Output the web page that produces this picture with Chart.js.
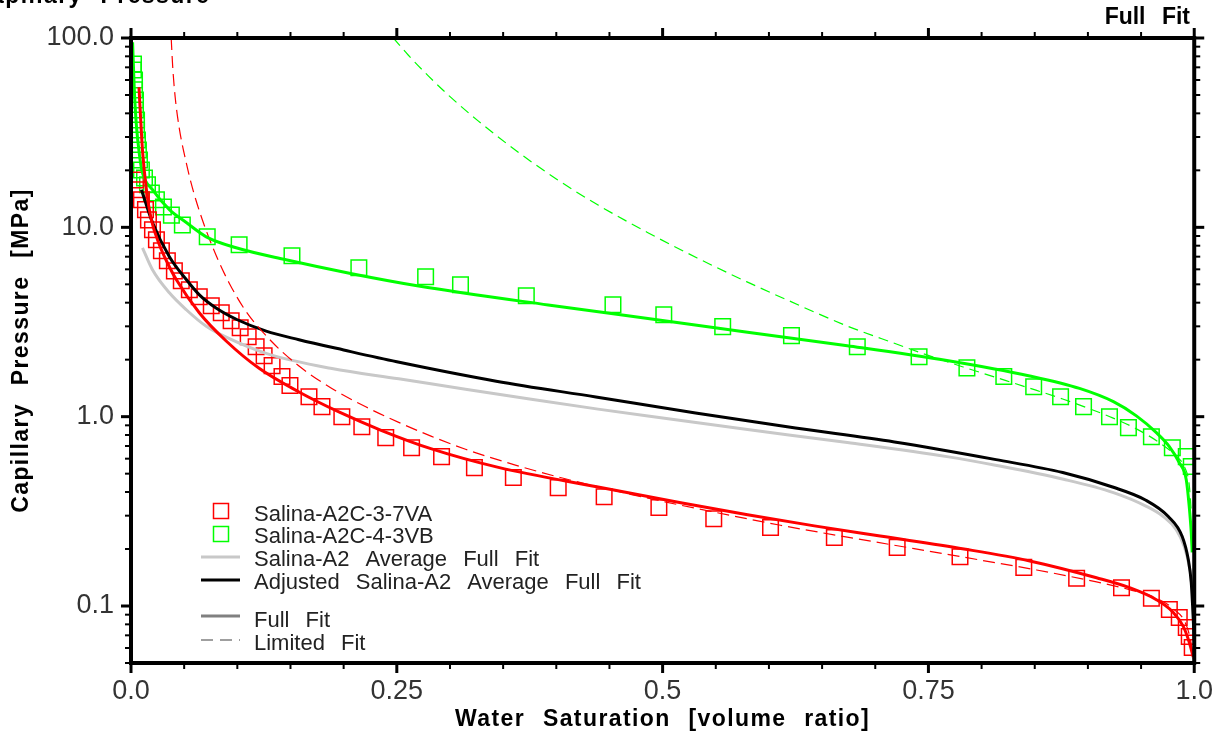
<!DOCTYPE html>
<html>
<head>
<meta charset="utf-8">
<title>Capillary Pressure</title>
<script src="https://cdn.jsdelivr.net/npm/chart.js@4.4.1/dist/chart.umd.min.js"></script>
<style>
  html, body { margin: 0; padding: 0; background: #ffffff; }
  canvas { display: block; }
</style>
</head>
<body>
<canvas id="pc" width="1225" height="740"></canvas>
<script>
// ---- axis ticks and labels ----
const xMajorTicks = [0, 0.25, 0.5, 0.75, 1.0];
const xTickLabels = ['0.0', '0.25', '0.5', '0.75', '1.0'];
const xMinorTicks = [0.05, 0.1, 0.15, 0.2, 0.3, 0.35, 0.4, 0.45, 0.55, 0.6, 0.65, 0.7, 0.8, 0.85, 0.9, 0.95];
const yMajorTicks = [0.1, 1, 10, 100];
const yTickLabels = ['0.1', '1.0', '10.0', '100.0'];
const yMinorTicks = [0.05, 0.06, 0.07, 0.08, 0.09,
                     0.2, 0.3, 0.4, 0.5, 0.6, 0.7, 0.8, 0.9,
                     2, 3, 4, 5, 6, 7, 8, 9,
                     20, 30, 40, 50, 60, 70, 80, 90];

// ---- measured samples ----
const sampleA_sw = [0.0042,0.0070,0.0098,0.0136,0.0164,0.0202,0.0239,0.0286,0.0342,0.0408,0.0473,0.0549,0.0642,0.0755,0.0849,0.0942,0.1027,0.1102,0.1177,0.1252,0.1327,0.1420,0.1495,0.1674,0.1796,0.1983,0.2171,0.2396,0.2639,0.2921,0.3230,0.3596,0.4018,0.4450,0.4965,0.5481,0.6015,0.6615,0.7206,0.7797,0.8397,0.8894,0.9316,0.9597,0.9766,0.9859,0.9925,0.9953,0.9981];
const sampleA_pc = [17.8,15.8,13.97,12.4,10.95,9.70,8.59,7.52,6.66,5.89,5.22,4.68,4.30,3.85,3.54,3.21,2.95,2.64,2.34,2.10,1.86,1.63,1.46,1.275,1.13,1.00,0.885,0.775,0.686,0.615,0.538,0.477,0.422,0.378,0.331,0.289,0.260,0.230,0.204,0.182,0.160,0.140,0.125,0.110,0.0958,0.0870,0.0770,0.0690,0.0604];

const sampleB_sw = [0.0023,0.0023,0.0033,0.0033,0.0042,0.0042,0.0052,0.0052,0.0061,0.0070,0.0080,0.0098,0.0127,0.0155,0.0192,0.0239,0.0305,0.0380,0.0483,0.0717,0.1017,0.1514,0.2143,0.2771,0.3099,0.3718,0.4533,0.5011,0.5565,0.6212,0.6831,0.7412,0.7862,0.8209,0.8490,0.8743,0.8959,0.9203,0.9381,0.9597,0.9794,0.9925,0.9972];
const sampleB_pc = [72.9,67.8,60.0,53.2,47.1,41.7,36.9,32.7,28.9,25.6,22.7,20.1,18.2,16.8,15.2,13.97,12.8,11.6,10.3,8.91,8.09,7.07,6.11,5.48,4.97,4.35,3.90,3.45,2.99,2.68,2.34,2.07,1.81,1.63,1.44,1.275,1.13,1.00,0.875,0.784,0.686,0.615,0.545];

// ---- fitted curves ----
const fullFitA_sw = [0.0075,0.0108,0.0145,0.0192,0.0267,0.0342,0.0427,0.0642,0.0895,0.1205,0.1580,0.1955,0.2358,0.2827,0.3455,0.4393,0.5171,0.5799,0.6427,0.7046,0.7834,0.8453,0.9081,0.9391,0.9644,0.9803,0.9897,0.9953,0.9991];
const fullFitA_pc = [55,25.6,15.8,10.95,8.09,6.50,5.28,3.54,2.51,1.80,1.35,1.059,0.845,0.676,0.540,0.425,0.351,0.303,0.265,0.234,0.200,0.173,0.141,0.125,0.108,0.0925,0.078,0.0643,0.0537];

const limFitA_sw = [0.0378,0.0392,0.0415,0.0455,0.0520,0.0577,0.0670,0.0802,0.0924,0.1083,0.1327,0.1580,0.1889,0.2208,0.2518,0.2827,0.3146,0.3615,0.4084,0.4553,0.5021,0.5490,0.6109,0.6737,0.7365,0.7984,0.8518,0.9081,0.9391,0.9644,0.9803,0.9925,0.9972,0.9991];
const limFitA_pc = [100,70.8,49.0,33.1,21.9,16.2,11.0,7.08,5.07,3.59,2.48,1.85,1.41,1.127,0.933,0.787,0.673,0.555,0.470,0.406,0.355,0.313,0.267,0.231,0.201,0.175,0.155,0.134,0.122,0.110,0.0966,0.0794,0.0631,0.0525];

const fullFitB_sw = [0.0015,0.003,0.005,0.008,0.0108,0.0202,0.0361,0.0520,0.0708,0.0989,0.1458,0.2077,0.2705,0.3924,0.4862,0.5799,0.6737,0.7674,0.8453,0.8921,0.9240,0.9456,0.9644,0.9766,0.9859,0.9925,0.9953,0.9972,0.9981];
const fullFitB_pc = [95,55,35,24,19.4,15.8,12.4,10.6,8.91,7.80,6.74,5.69,4.90,3.89,3.30,2.79,2.37,1.98,1.64,1.41,1.20,1.01,0.823,0.695,0.572,0.465,0.335,0.244,0.192];

const limFitB_sw = [0.2468,0.2609,0.2796,0.2984,0.3265,0.3639,0.4014,0.4389,0.4857,0.5325,0.5794,0.6169,0.6731,0.7199,0.7452,0.7827,0.8230,0.8511,0.8763,0.8979,0.9232,0.9447,0.9663,0.9822,0.9916,0.9953,0.9972];
const limFitB_pc = [100,81.1,63.1,50.0,36.5,25.0,17.8,13.15,9.40,6.89,5.15,4.14,3.02,2.42,2.15,1.83,1.55,1.38,1.24,1.12,0.986,0.867,0.735,0.624,0.531,0.437,0.316];

const avgFit_sw = [0.0108,0.0202,0.0361,0.0520,0.0708,0.0900,0.1271,0.1889,0.2518,0.3146,0.3765,0.4393,0.4862,0.5799,0.6737,0.7674,0.8143,0.8771,0.9240,0.9550,0.9709,0.9831,0.9906,0.9953,0.9981,0.9995];
const avgFit_pc = [7.80,5.97,4.51,3.67,3.00,2.62,2.16,1.795,1.585,1.396,1.236,1.096,1.007,0.855,0.730,0.615,0.552,0.467,0.397,0.336,0.297,0.253,0.206,0.162,0.122,0.085];

const adjFit_sw = [0.0098,0.0202,0.0361,0.0520,0.0643,0.0800,0.1000,0.1271,0.1580,0.2000,0.2500,0.3435,0.4372,0.5310,0.6250,0.7180,0.8136,0.8763,0.9232,0.9541,0.9756,0.9887,0.9944,0.9972,0.9985,1.0];
const adjFit_pc = [15.8,10.6,7.0,5.3,4.4,3.75,3.25,2.83,2.55,2.25,1.95,1.54,1.27,1.045,0.871,0.735,0.593,0.507,0.425,0.363,0.297,0.233,0.176,0.133,0.0994,0.066];

// ---- text ----
const chartTitle = 'Capillary Pressure';
const cornerNote = 'Full Fit';
const xAxisTitle = 'Water Saturation [volume ratio]';
const yAxisTitle = 'Capillary Pressure [MPa]';
const seriesNames = ['Salina-A2C-3-7VA', 'Salina-A2C-4-3VB', 'Salina-A2 Average Full Fit', 'Adjusted Salina-A2 Average Full Fit'];
const styleNames = ['Full Fit', 'Limited Fit'];

const RED = '#ff0000', GREEN = '#00ff00', LIGHT = '#c8c8c8', BLACK = '#000000', MID = '#808080';
const FAMILY = '"Liberation Sans", Arial, sans-serif';

const pts = (sw, pc) => sw.map((v, i) => ({ x: v, y: pc[i] }));

function curve(label, sw, pc, color, width, dash) {
  return {
    label, data: pts(sw, pc), showLine: true, borderColor: color, backgroundColor: color,
    borderWidth: width, borderDash: dash || [], pointRadius: 0, pointHoverRadius: 0,
    cubicInterpolationMode: 'monotone', fill: false
  };
}
function markers(label, sw, pc, color) {
  return {
    label, data: pts(sw, pc), showLine: false, pointStyle: 'rect', pointRadius: 11,
    pointBorderColor: color, pointBackgroundColor: 'rgba(0,0,0,0)', pointBorderWidth: 1.5,
    borderColor: color, backgroundColor: 'rgba(0,0,0,0)'
  };
}

// first dataset is painted last (on top)
const datasets = [
  curve('A full', fullFitA_sw, fullFitA_pc, RED, 3),
  curve('B full', fullFitB_sw, fullFitB_pc, GREEN, 3),
  curve('A limited', limFitA_sw, limFitA_pc, RED, 1.2, [12, 6]),
  curve('B limited', limFitB_sw, limFitB_pc, GREEN, 1.2, [10, 6]),
  curve(seriesNames[3], adjFit_sw, adjFit_pc, BLACK, 3),
  curve(seriesNames[2], avgFit_sw, avgFit_pc, LIGHT, 3),
  markers(seriesNames[0], sampleA_sw, sampleA_pc, RED),
  markers(seriesNames[1], sampleB_sw, sampleB_pc, GREEN)
];

// text with widened word gaps
function spacedWidth(ctx, text, gap) {
  const words = text.split(' ');
  const sp = ctx.measureText(' ').width + gap;
  return words.reduce((s, w) => s + ctx.measureText(w).width, 0) + sp * (words.length - 1);
}
function spacedText(ctx, text, x, y, gap) {
  const sp = ctx.measureText(' ').width + gap;
  let cx = x;
  text.split(' ').forEach(w => { ctx.fillText(w, cx, y); cx += ctx.measureText(w).width + sp; });
}

const frameAndText = {
  id: 'frameAndText',
  afterDraw(chart) {
    const { ctx, chartArea: a, scales: { x, y } } = chart;
    ctx.save();
    ctx.strokeStyle = '#000';
    ctx.lineCap = 'butt';
    const seg = (x1, y1, x2, y2, w) => {
      ctx.lineWidth = w; ctx.beginPath(); ctx.moveTo(x1, y1); ctx.lineTo(x2, y2); ctx.stroke();
    };
    xMajorTicks.forEach(v => {
      const p = x.getPixelForValue(v);
      seg(p, a.bottom, p, a.bottom + 10, 3);
      seg(p, a.top, p, a.top - 10, 3);
    });
    xMinorTicks.forEach(v => {
      const p = x.getPixelForValue(v);
      seg(p, a.bottom, p, a.bottom + 6, 2);
      seg(p, a.top, p, a.top - 6, 2);
    });
    yMajorTicks.forEach(v => {
      const p = y.getPixelForValue(v);
      seg(a.left - 10, p, a.left, p, 3);
      seg(a.right, p, a.right + 10, p, 3);
    });
    yMinorTicks.forEach(v => {
      const p = y.getPixelForValue(v);
      seg(a.left - 6, p, a.left, p, 2);
      seg(a.right, p, a.right + 6, p, 2);
    });
    ctx.lineWidth = 4;
    ctx.strokeRect(a.left, a.top, a.right - a.left, a.bottom - a.top);

    // titles
    ctx.fillStyle = '#000';
    ctx.textBaseline = 'alphabetic';
    ctx.font = 'bold 23px ' + FAMILY;
    ctx.textAlign = 'left';
    if ('letterSpacing' in ctx) ctx.letterSpacing = '1.4px';
    spacedText(ctx, chartTitle, -27, 3, 10);
    const wx = spacedWidth(ctx, xAxisTitle, 10);
    spacedText(ctx, xAxisTitle, (a.left + a.right) / 2 - wx / 2, 726, 10);
    ctx.save();
    ctx.translate(28, (a.top + a.bottom) / 2);
    ctx.rotate(-Math.PI / 2);
    const wy = spacedWidth(ctx, yAxisTitle, 10);
    spacedText(ctx, yAxisTitle, -wy / 2, 0, 10);
    ctx.restore();
    if ('letterSpacing' in ctx) ctx.letterSpacing = '0px';
    const wn = spacedWidth(ctx, cornerNote, 10);
    spacedText(ctx, cornerNote, 1190 - wn, 24, 10);

    // legend
    const lx = 254;
    ctx.font = '22px ' + FAMILY;
    ctx.fillStyle = '#222';
    const square = (cx, cy, color) => {
      ctx.strokeStyle = color; ctx.lineWidth = 1.5; ctx.setLineDash([]);
      ctx.strokeRect(cx - 7.5, cy - 7.5, 15, 15);
    };
    const swatch = (cy, color, w, dash) => {
      ctx.strokeStyle = color; ctx.lineWidth = w; ctx.setLineDash(dash || []);
      ctx.beginPath(); ctx.moveTo(201, cy); ctx.lineTo(240, cy); ctx.stroke();
      ctx.setLineDash([]);
    };
    square(221, 511, RED);
    spacedText(ctx, seriesNames[0], lx, 521, 10);
    square(221, 534, GREEN);
    spacedText(ctx, seriesNames[1], lx, 543, 10);
    swatch(557, LIGHT, 3);
    spacedText(ctx, seriesNames[2], lx, 566, 10);
    swatch(580, BLACK, 3);
    spacedText(ctx, seriesNames[3], lx, 589, 10);
    swatch(616, MID, 3);
    spacedText(ctx, styleNames[0], lx, 627, 10);
    swatch(640, MID, 1.5, [12, 7]);
    spacedText(ctx, styleNames[1], lx, 650, 10);
    ctx.restore();
  }
};

const tickFont = { family: FAMILY, size: 27 };

new Chart(document.getElementById('pc'), {
  type: 'scatter',
  data: { datasets },
  options: {
    responsive: false,
    animation: false,
    devicePixelRatio: 1,
    layout: { padding: { left: 0, right: 26, top: 38, bottom: 0 } },
    plugins: { legend: { display: false }, tooltip: { enabled: false }, title: { display: false } },
    scales: {
      x: {
        type: 'linear', position: 'bottom', min: 0, max: 1,
        afterBuildTicks: s => { s.ticks = [...xMajorTicks, ...xMinorTicks].sort((p, q) => p - q).map(v => ({ value: v })); },
        afterFit: s => { s.height = 77; },
        grid: { display: false, drawTicks: false },
        border: { display: false },
        ticks: {
          autoSkip: false, maxRotation: 0, minRotation: 0, padding: 12, color: '#333', font: tickFont,
          callback: v => { const i = xMajorTicks.findIndex(m => Math.abs(m - v) < 1e-9); return i >= 0 ? xTickLabels[i] : ''; }
        }
      },
      y: {
        type: 'logarithmic', position: 'left', min: 0.05, max: 100,
        afterBuildTicks: s => { s.ticks = [...yMajorTicks, ...yMinorTicks].sort((p, q) => p - q).map(v => ({ value: v })); },
        afterFit: s => { s.width = 131; },
        grid: { display: false, drawTicks: false },
        border: { display: false },
        ticks: {
          autoSkip: false, padding: 17, color: '#333', font: tickFont,
          callback: v => { const i = yMajorTicks.findIndex(m => Math.abs(m - v) / m < 1e-6); return i >= 0 ? yTickLabels[i] : ''; }
        }
      }
    }
  },
  plugins: [frameAndText]
});
</script>
</body>
</html>
